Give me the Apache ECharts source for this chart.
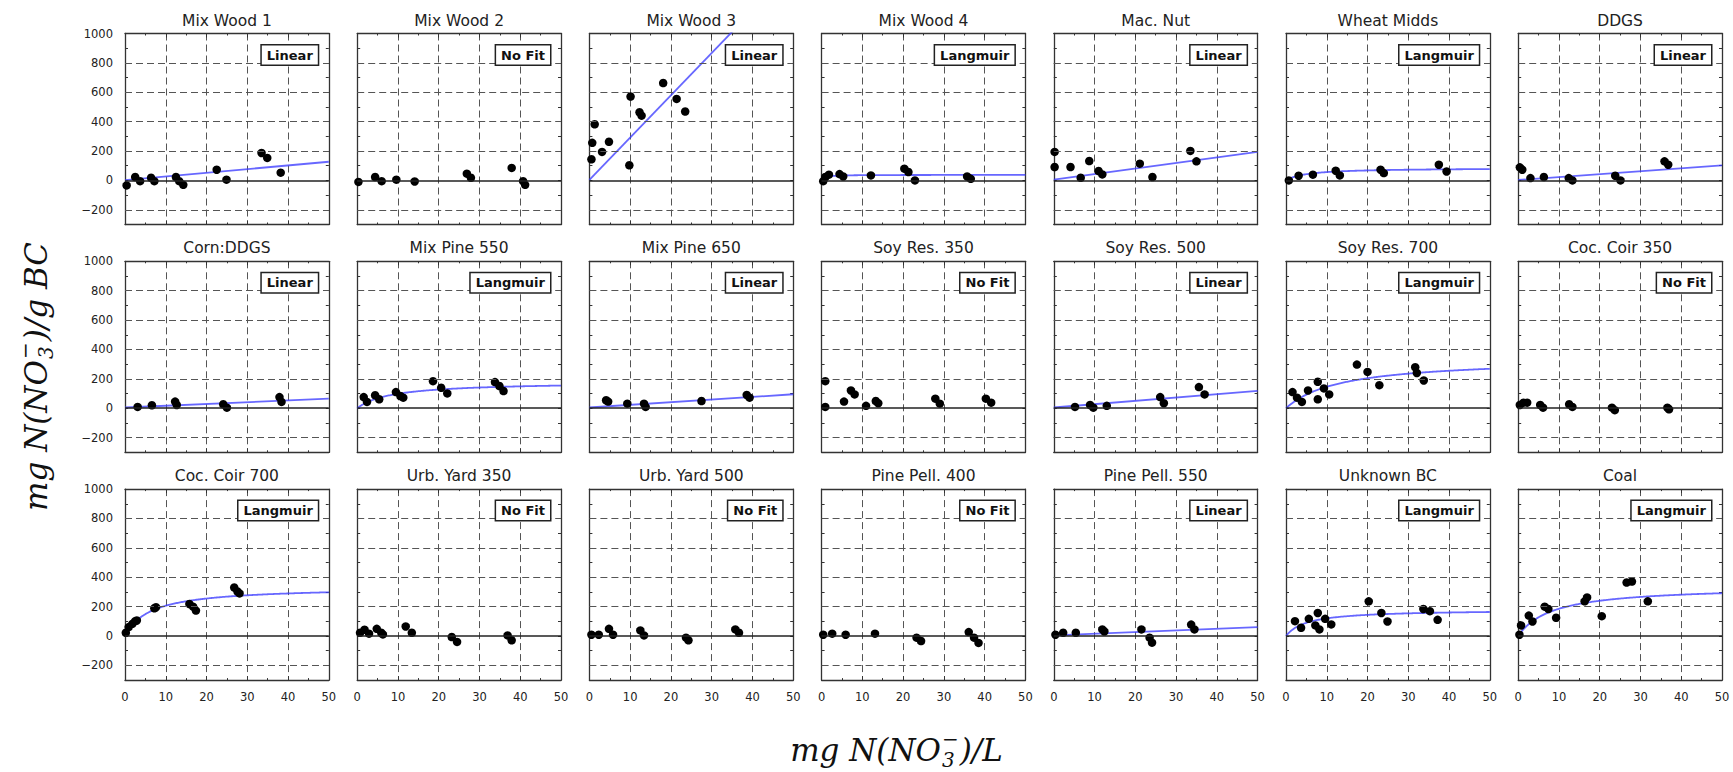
<!DOCTYPE html>
<html>
<head>
<meta charset="utf-8">
<script src="https://cdn.jsdelivr.net/npm/echarts@6/dist/echarts.min.js"></script>
<style>
  html, body { margin: 0; padding: 0; background: #fff; }
  #chart { width: 1733px; height: 772px; }
</style>
</head>
<body>
<div id="chart"></div>
<script>
// Nitrate sorption on 21 biochars: measured q (mg N / g BC) against equilibrium C (mg N / L)
const panelTitles = [
  'Mix Wood 1', 'Mix Wood 2', 'Mix Wood 3', 'Mix Wood 4', 'Mac. Nut', 'Wheat Midds', 'DDGS',
  'Corn:DDGS', 'Mix Pine 550', 'Mix Pine 650', 'Soy Res. 350', 'Soy Res. 500', 'Soy Res. 700', 'Coc. Coir 350',
  'Coc. Coir 700', 'Urb. Yard 350', 'Urb. Yard 500', 'Pine Pell. 400', 'Pine Pell. 550', 'Unknown BC', 'Coal'
];
const fitTypes = [
  'Linear', 'No Fit', 'Linear', 'Langmuir', 'Linear', 'Langmuir', 'Linear',
  'Linear', 'Langmuir', 'Linear', 'No Fit', 'Linear', 'Langmuir', 'No Fit',
  'Langmuir', 'No Fit', 'No Fit', 'No Fit', 'Linear', 'Langmuir', 'Langmuir'
];
// Linear: [slope, intercept]; Langmuir: [Qmax, K]
const fitParams = [
  [2.5, 2], null, [28.8, 3], [38, 1.5], [3.8, 5], [85, 0.2], [2.0, 3],
  [1.2, 5], [180, 0.12], [1.8, 5], null, [2.25, 5], [340, 0.075], null,
  [335, 0.16], null, null, null, [1.1, 5], [180, 0.2], [340, 0.12]
];

const mixWood1 = [[0.4,-34],[2.5,23],[3.7,-5],[6.4,18],[7.2,-5],[12.5,23],[13.3,-5],[14.3,-30],[22.5,73],[24.9,5],[33.5,187],[34.9,153],[38.2,53]];
const mixWood2 = [[0.3,-10],[4.4,23],[6.0,-5],[9.6,5],[14.1,-7],[26.9,46],[27.9,18],[37.9,85],[40.7,-5],[41.2,-30]];
const mixWood3 = [[0.5,144],[0.7,256],[1.3,382],[3.1,194],[4.8,263],[9.8,103],[10.1,571],[12.3,464],[12.8,441],[18.1,663],[21.4,555],[23.5,469]];
const mixWood4 = [[0.4,-5],[0.9,23],[1.8,39],[4.4,43],[5.3,27],[12.1,34],[20.3,80],[21.3,57],[22.9,0],[35.7,27],[36.6,11]];
const macNut = [[0.2,194],[0.2,91],[4.1,91],[6.6,18],[8.7,132],[11.0,64],[11.9,41],[21.1,114],[24.2,23],[33.5,201],[35.0,130]];
const wheatMidds = [[0.7,0],[3.1,32],[6.6,39],[12.2,66],[13.2,34],[23.2,73],[24.0,50],[37.5,107],[39.4,61]];
const ddgs = [[0.4,89],[1.0,73],[3.0,16],[6.3,23],[12.4,16],[13.3,0],[23.8,32],[25.1,0],[35.9,130],[36.8,107]];
const cornDdgs = [[3.1,9],[6.6,20],[12.3,45],[12.7,22],[24.1,27],[25.0,4],[37.9,76],[38.4,43]];
const mixPine550 = [[1.6,76],[2.4,43],[4.4,88],[5.4,61],[9.5,110],[10.6,83],[11.3,72],[18.6,184],[20.6,139],[22.1,101],[33.8,178],[34.9,151],[35.9,117]];
const mixPine650 = [[4.1,54],[4.6,45],[9.3,31],[13.4,31],[13.8,9],[27.5,49],[38.6,90],[39.3,72]];
const soyRes350 = [[0.9,184],[0.9,9],[5.5,45],[7.2,121],[8.1,94],[10.9,16],[13.3,49],[13.9,34],[27.9,65],[29.0,31],[40.3,65],[41.6,38]];
const soyRes500 = [[5.2,9],[8.9,22],[9.7,4],[13.0,16],[26.1,76],[27.0,34],[35.6,144],[37.0,94]];
const soyRes700 = [[1.6,110],[2.7,72],[3.9,43],[5.4,121],[7.8,180],[7.8,61],[9.3,135],[10.6,94],[17.4,297],[20.0,247],[22.9,157],[31.7,279],[32.1,240],[33.8,189]];
const cocCoir350 = [[0.4,22],[1.3,38],[2.2,38],[5.4,22],[6.1,4],[12.5,27],[13.3,9],[23.0,4],[23.7,-13],[36.6,4],[37.0,-7]];
const cocCoir700 = [[0.2,22],[0.9,61],[1.8,83],[2.5,101],[2.9,106],[7.2,189],[7.6,196],[15.8,218],[16.7,200],[17.4,173],[26.8,330],[27.6,303],[28.1,290]];
const urbYard350 = [[0.7,22],[1.8,43],[2.9,16],[4.8,49],[5.9,22],[6.3,11],[11.9,65],[13.4,22],[23.2,-7],[24.5,-40],[36.9,4],[37.9,-29]];
const urbYard500 = [[0.5,9],[2.3,9],[4.8,49],[5.8,9],[12.5,38],[13.4,4],[23.7,-11],[24.3,-29],[35.8,45],[36.7,22]];
const pinePell400 = [[0.4,9],[2.6,16],[5.9,9],[13.1,16],[23.3,-11],[24.4,-34],[36.1,27],[37.4,-11],[38.5,-47]];
const pinePell550 = [[0.4,9],[2.3,22],[5.4,22],[11.9,45],[12.4,31],[21.5,45],[23.5,-11],[24.1,-45],[33.7,78],[34.5,45]];
const unknownBC = [[2.2,101],[3.7,56],[5.6,117],[7.2,72],[7.8,157],[8.2,45],[9.6,117],[11.1,79],[20.3,236],[23.4,157],[24.9,99],[33.7,184],[35.3,169],[37.2,110]];
const coal = [[0.3,9],[0.7,72],[2.6,139],[3.5,99],[6.5,200],[7.4,184],[9.3,124],[16.3,236],[16.9,263],[20.5,135],[26.6,364],[27.9,371],[31.8,236]];

const panelData = [
  mixWood1, mixWood2, mixWood3, mixWood4, macNut, wheatMidds, ddgs,
  cornDdgs, mixPine550, mixPine650, soyRes350, soyRes500, soyRes700, cocCoir350,
  cocCoir700, urbYard350, urbYard500, pinePell400, pinePell550, unknownBC, coal
];

const xRange = [0, 50];
const yRange = [-300, 1000];
const yGridValues = [-200, 200, 400, 600, 800];

// Panel layout (pixels)
const NCOL = 7, NROW = 3;
const GRID_LEFT = 125, COL_STEP = 232.2, GRID_W = 203.8;
const GRID_TOP = 33.5, ROW_STEP = 227.8, GRID_H = 191;

const FIT_COLOR = 'rgba(60,60,255,0.78)';
const INK = '#222';

function fitCurve(type, p) {
  if (type === 'Linear') {
    return [[xRange[0], p[0] * xRange[0] + p[1]], [xRange[1], p[0] * xRange[1] + p[1]]];
  }
  const pts = [];
  for (let x = xRange[0]; x <= xRange[1] + 1e-9; x += 0.25) {
    pts.push([x, p[0] * p[1] * x / (1 + p[1] * x)]);
  }
  return pts;
}

function fmtY(v) {
  const r = Math.round(v);
  if (r % 200 !== 0) return '';
  return r < 0 ? '\u2212' + (-r) : String(r);
}

const grids = [], xAxes = [], yAxes = [], series = [], graphics = [];
const frameLine = { show: true, onZero: false, lineStyle: { color: '#333', width: 1.3 } };
const tickStyle = { color: '#333', width: 1 };

for (let i = 0; i < panelTitles.length; i++) {
  const r = Math.floor(i / NCOL), c = i % NCOL;
  const left = GRID_LEFT + c * COL_STEP;
  const top = GRID_TOP + r * ROW_STEP;
  grids.push({ left: left, top: top, width: GRID_W, height: GRID_H });

  // bottom + top x axes
  xAxes.push({
    gridIndex: i, type: 'value', position: 'bottom', min: xRange[0], max: xRange[1], interval: 10,
    axisLine: frameLine,
    axisTick: { show: true, inside: true, length: 4, lineStyle: tickStyle },
    minorTick: { show: true, splitNumber: 2, length: 2, lineStyle: tickStyle },
    axisLabel: { show: r === NROW - 1, fontFamily: 'DejaVu Sans', fontSize: 11.5, color: INK, margin: 11 },
    splitLine: { show: true, lineStyle: { type: [7, 4], color: '#555', width: 1 } }
  });
  xAxes.push({
    gridIndex: i, type: 'value', position: 'top', min: xRange[0], max: xRange[1], interval: 10,
    axisLine: frameLine,
    axisTick: { show: true, inside: true, length: 4, lineStyle: tickStyle },
    minorTick: { show: true, splitNumber: 2, length: 2, lineStyle: tickStyle },
    axisLabel: { show: false }, splitLine: { show: false }
  });
  // left + right y axes
  yAxes.push({
    gridIndex: i, type: 'value', position: 'left', min: yRange[0], max: yRange[1], interval: 100,
    axisLine: frameLine,
    axisTick: { show: true, inside: true, length: 3, lineStyle: tickStyle },
    axisLabel: { show: c === 0, fontFamily: 'DejaVu Sans', fontSize: 11.5, color: INK, margin: 12, formatter: fmtY },
    splitLine: { show: false }
  });
  yAxes.push({
    gridIndex: i, type: 'value', position: 'right', min: yRange[0], max: yRange[1], interval: 100,
    axisLine: frameLine,
    axisTick: { show: true, inside: true, length: 3, lineStyle: tickStyle },
    axisLabel: { show: false }, splitLine: { show: false }
  });

  const xi = 2 * i, yi = 2 * i;

  // dashed horizontal grid + solid zero line
  series.push({
    type: 'line', xAxisIndex: xi, yAxisIndex: yi, data: [], silent: true, z: 1,
    markLine: {
      silent: true, symbol: 'none', animation: false,
      label: { show: false },
      data: yGridValues.map(v => ({ yAxis: v, lineStyle: { type: [7, 4], color: '#555', width: 1 } }))
        .concat([{ yAxis: 0, lineStyle: { type: 'solid', color: '#222', width: 1.6 } }])
    }
  });

  if (fitTypes[i] !== 'No Fit') {
    series.push({
      type: 'line', xAxisIndex: xi, yAxisIndex: yi, data: fitCurve(fitTypes[i], fitParams[i]),
      showSymbol: false, smooth: false, clip: true, z: 3, silent: true,
      lineStyle: { color: FIT_COLOR, width: 1.8 }
    });
  }

  series.push({
    type: 'scatter', xAxisIndex: xi, yAxisIndex: yi, data: panelData[i], z: 4,
    symbol: 'circle', symbolSize: 8.5, itemStyle: { color: '#000', opacity: 1 }, silent: true
  });

  // panel title
  graphics.push({
    type: 'text', x: left + GRID_W / 2, y: top - 13,
    style: { text: panelTitles[i], font: '15.5px "DejaVu Sans"', fill: INK, textAlign: 'center', textVerticalAlign: 'middle' }
  });
  // fit-type badge
  graphics.push({
    type: 'text', x: left + GRID_W - 11, y: top + 12, z: 10,
    style: {
      text: fitTypes[i], font: 'bold 13px "DejaVu Sans"', fill: '#111',
      textAlign: 'right', textVerticalAlign: 'top',
      backgroundColor: '#fff', borderColor: '#222', borderWidth: 1.5, padding: [3, 5, 3, 5]
    }
  });
}

// Axis titles with stacked sub/superscript on NO3
const measureCtx = document.createElement('canvas').getContext('2d');
function mathLabel(head, sub, sup, tail, size, cx, cy, rotation) {
  const fam = '"DejaVu Serif"';
  const fMain = 'italic ' + size + 'px ' + fam;
  const smallSize = Math.round(size * 0.66);
  const fSmall = 'italic ' + smallSize + 'px ' + fam;
  measureCtx.font = fMain;
  const w1 = measureCtx.measureText(head).width;
  const w3 = measureCtx.measureText(tail).width;
  measureCtx.font = fSmall;
  const w2 = Math.max(measureCtx.measureText(sub).width, measureCtx.measureText(sup).width);
  const total = w1 + w2 + w3 + 3;
  const x0 = -total / 2;
  const base = { fill: '#111', textAlign: 'left', textVerticalAlign: 'middle' };
  const smallLH = Math.round(smallSize * 0.72);
  return {
    type: 'group', x: cx, y: cy, rotation: rotation,
    children: [
      { type: 'text', x: x0, y: 0, style: Object.assign({ text: head, font: fMain }, base) },
      { type: 'text', x: x0 + w1 + 1, y: size * 0.31, style: Object.assign({ text: sub, font: fSmall, lineHeight: smallLH }, base) },
      { type: 'text', x: x0 + w1 + 1, y: -size * 0.37, style: Object.assign({ text: sup, font: fSmall, lineHeight: smallLH }, base) },
      { type: 'text', x: x0 + w1 + w2 + 2, y: 0, style: Object.assign({ text: tail, font: fMain }, base) }
    ]
  };
}
graphics.push(mathLabel('mg N(NO', '3', '\u2212', ')/L', 31, 897, 750, 0));
graphics.push(mathLabel('mg N(NO', '3', '\u2212', ')/g BC', 31, 36, 376, Math.PI / 2));

const chart = echarts.init(document.getElementById('chart'), null, { renderer: 'svg' });
chart.setOption({
  animation: false,
  backgroundColor: '#fff',
  grid: grids,
  xAxis: xAxes,
  yAxis: yAxes,
  series: series,
  graphic: { elements: graphics }
});
</script>
</body>
</html>
